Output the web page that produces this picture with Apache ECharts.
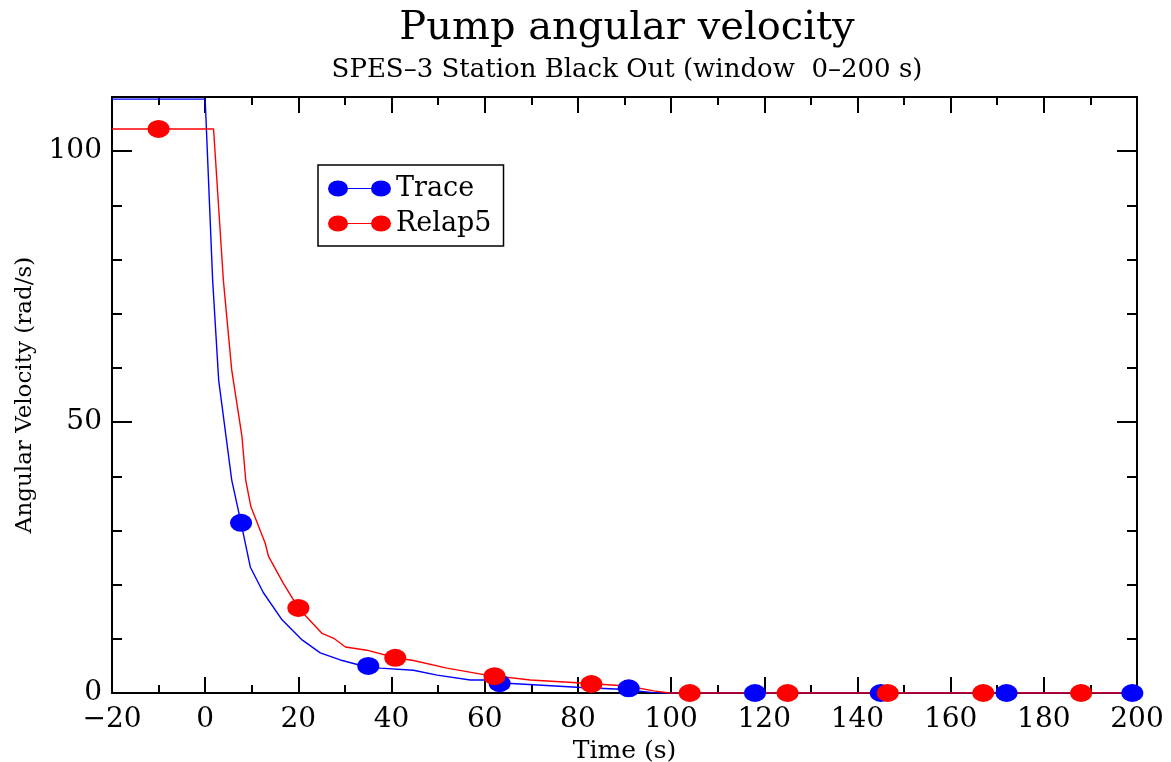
<!DOCTYPE html>
<html>
<head>
<meta charset="utf-8">
<script src="https://cdn.jsdelivr.net/npm/echarts@6/dist/echarts.min.js"></script>
<style>html,body{margin:0;padding:0;background:#fff}#c{width:1171px;height:762px}</style>
</head>
<body>
<div id="c"></div>
<script>
// Trace curve (time s, angular velocity rad/s)
const traceTime = [-20, 0, 1.6, 2.9, 5.7, 7.7, 9.7, 12.5, 16.5, 20.8, 24.7, 29, 34.7, 37.6, 44.7, 49.8, 56.9, 59.8, 64.8, 79.8, 89.2, 96.2, 99, 200];
const traceVal  = [109.6, 109.6, 76.2, 57.7, 39.3, 31.4, 23.2, 18.5, 13.5, 9.8, 7.4, 6.1, 4.8, 4.6, 4.2, 3.3, 2.4, 2.4, 1.8, 1.05, 0.7, 0.06, 0, 0];
// Relap5 curve
const relapTime = [-20, 1.8, 3.9, 5.7, 7.9, 8.7, 9.8, 12.9, 13.6, 16.8, 20, 25.1, 27.6, 30.1, 34.7, 40.8, 44.7, 51.9, 59.8, 69.8, 79.8, 90.6, 96.3, 99.5, 200];
const relapVal  = [104.1, 104.1, 76.2, 59.6, 47.3, 39.3, 34.4, 27.6, 25.2, 20.2, 15.7, 11.0, 10.1, 8.5, 7.9, 6.5, 6.0, 4.6, 3.4, 2.4, 1.9, 1.3, 0.4, 0, 0];
// Markers
const traceMarkT = [7.7, 35, 63.2, 90.9, 118, 145, 172, 199];
const traceMarkV = [31.4, 5.0, 1.8, 0.87, 0, 0, 0, 0];
const relapMarkT = [-10, 20, 40.8, 62.1, 82.9, 104, 125, 146.5, 167, 188];
const relapMarkV = [104.1, 15.7, 6.5, 3.1, 1.66, 0, 0, 0, 0, 0];
const xTicks = [-20, 0, 20, 40, 60, 80, 100, 120, 140, 160, 180, 200];
const yTicks = [0, 50, 100];

const zip = (a, b) => a.map((v, i) => [v, b[i]]);
const font = 'DejaVu Serif';
const icon = 'path://M0,8A10,8,0,1,0,20,8A10,8,0,1,0,0,8Z M20,7.4L43,7.4L43,8.6L20,8.6Z M43,8A10,8,0,1,0,63,8A10,8,0,1,0,43,8Z';

const chart = echarts.init(document.getElementById('c'));
const axisLine = {show: true, onZero: false, lineStyle: {color: '#000', width: 2}};
const xTick = {show: true, inside: true, length: 16, lineStyle: {color: '#000', width: 2}};
const xMinor = {show: true, splitNumber: 2, length: 8, lineStyle: {color: '#000', width: 2}};
const yTick = {show: true, inside: true, length: 20, lineStyle: {color: '#000', width: 2}};
const yMinor = {show: true, splitNumber: 5, length: 10, lineStyle: {color: '#000', width: 2}};
chart.setOption({
  backgroundColor: '#fff',
  animation: false,
  title: {
    text: 'Pump angular velocity',
    subtext: 'SPES\u20133 Station Black Out (window  0\u2013200 s)',
    left: 622, textAlign: 'center', top: 4, itemGap: 8,
    textStyle: {fontFamily: font, fontSize: 40, fontWeight: 'normal', color: '#000'},
    subtextStyle: {fontFamily: font, fontSize: 26, color: '#000'}
  },
  legend: {
    orient: 'vertical', left: 318, top: 165,
    padding: [10, 12, 9, 10], itemGap: 8,
    itemWidth: 63, itemHeight: 18, itemTextGap: 14,
    borderColor: '#000', borderWidth: 1.5,
    textStyle: {fontFamily: font, fontSize: 27, color: '#000'},
    data: [{name: 'Trace', icon: icon}, {name: 'Relap5', icon: icon}]
  },
  grid: {left: 112, right: 34, top: 97, bottom: 69, outerBoundsMode: 'none', containLabel: false},
  xAxis: [
    {
      type: 'value', min: -20, max: 200, interval: 20, position: 'bottom',
      name: 'Time (s)', nameLocation: 'middle', nameGap: 46,
      nameTextStyle: {fontFamily: font, fontSize: 25, color: '#000'},
      axisLine: axisLine, axisTick: xTick, minorTick: xMinor, splitLine: {show: false},
      axisLabel: {fontFamily: font, fontSize: 28, color: '#000', margin: 13,
        formatter: v => xTicks.includes(v) ? String(v).replace('-', '\u2212') : ''}
    },
    {
      type: 'value', min: -20, max: 200, interval: 20, position: 'top',
      axisLine: axisLine, axisTick: xTick, minorTick: xMinor, splitLine: {show: false},
      axisLabel: {show: false}
    }
  ],
  yAxis: [
    {
      type: 'value', min: 0, max: 110, interval: 50, position: 'left',
      name: 'Angular Velocity (rad/s)', nameLocation: 'middle', nameGap: 75, nameRotate: 90,
      nameTextStyle: {fontFamily: font, fontSize: 23, color: '#000'},
      axisLine: axisLine, axisTick: yTick, minorTick: yMinor, splitLine: {show: false},
      axisLabel: {fontFamily: font, fontSize: 28, color: '#000', margin: 10,
        formatter: v => yTicks.includes(v) ? String(v) : ''}
    },
    {
      type: 'value', min: 0, max: 110, interval: 50, position: 'right',
      axisLine: axisLine, axisTick: yTick, minorTick: yMinor, splitLine: {show: false},
      axisLabel: {show: false}
    }
  ],
  series: [
    {name: 'Trace', type: 'line', data: zip(traceTime, traceVal), showSymbol: false,
     color: '#0000ff', lineStyle: {width: 1.4, color: '#0000ff'}, z: 2},
    {name: 'Relap5', type: 'line', data: zip(relapTime, relapVal), showSymbol: false,
     color: '#ff0000', lineStyle: {width: 1.4, color: '#ff0000'}, z: 2},
    {name: 'Trace', type: 'scatter', data: zip(traceMarkT, traceMarkV), symbol: 'circle',
     symbolSize: [22, 18], itemStyle: {color: '#0000ff', opacity: 1}, z: 3},
    {name: 'Relap5', type: 'scatter', data: zip(relapMarkT, relapMarkV), symbol: 'circle',
     symbolSize: [22, 18], itemStyle: {color: '#ff0000', opacity: 1}, z: 4}
  ]
});
</script>
</body>
</html>
